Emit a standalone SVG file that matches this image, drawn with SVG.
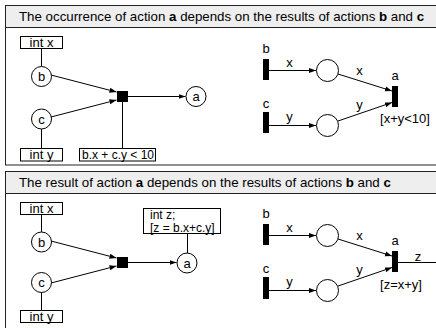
<svg xmlns="http://www.w3.org/2000/svg" width="436" height="328" viewBox="0 0 436 328">
<defs>
<style>
text{font-family:"Liberation Sans",Arial,sans-serif;font-size:13px;fill:#000}
.hdr{font-size:13.3px}
.sm{font-size:12px}
.panel{fill:#fff;stroke:#222;stroke-width:1}
.head{fill:#eeeeee;stroke:#222;stroke-width:1}
.box{fill:#fff;stroke:#000;stroke-width:1}
.pl{fill:#fff;stroke:#000;stroke-width:1}
.bar{fill:#000}
.ln{stroke:#000;stroke-width:1;fill:none}
.ar{stroke:#000;stroke-width:1;fill:none;marker-end:url(#ah)}
.c{text-anchor:middle}
</style>
<marker id="ah" markerUnits="userSpaceOnUse" markerWidth="7" markerHeight="6" refX="7" refY="3" orient="auto"><path d="M0,0.5 L7,3 L0,5.5 z" fill="#000"/></marker>
</defs>

<g id="panel1">
<rect class="panel" x="5.5" y="5.5" width="440" height="159.5"/>
<rect class="head" x="5.5" y="5.5" width="440" height="22"/>
<text class="hdr" x="19" y="21">The occurrence of action <tspan font-weight="bold">a</tspan> depends on the results of actions <tspan font-weight="bold">b</tspan> and <tspan font-weight="bold">c</tspan></text>
</g>
<g id="panel2">
<rect class="panel" x="5.5" y="171.5" width="440" height="170"/>
<rect class="head" x="5.5" y="171.5" width="440" height="22"/>
<text class="hdr" x="19" y="187">The result of action <tspan font-weight="bold">a</tspan> depends on the results of actions <tspan font-weight="bold">b</tspan> and <tspan font-weight="bold">c</tspan></text>
</g>

<g id="connectors">
<!-- panel 1 left -->
<line class="ln" x1="41.5" y1="48.5" x2="41.5" y2="66"/>
<line class="ln" x1="41.5" y1="129" x2="41.5" y2="148"/>
<line class="ar" x1="51" y1="75" x2="116.5" y2="92"/>
<line class="ar" x1="51" y1="117" x2="116.5" y2="100"/>
<line class="ar" x1="128" y1="96.5" x2="185.5" y2="96.5"/>
<line class="ln" x1="122.5" y1="102" x2="122.5" y2="148"/>
<!-- panel 1 right -->
<line class="ar" x1="269" y1="70.5" x2="316" y2="70.5"/>
<line class="ar" x1="338" y1="74" x2="392" y2="91"/>
<line class="ar" x1="269" y1="125.5" x2="316" y2="125.5"/>
<line class="ar" x1="338" y1="121" x2="392" y2="102.5"/>
<!-- panel 2 left -->
<line class="ln" x1="41.5" y1="214.5" x2="41.5" y2="232"/>
<line class="ln" x1="41.5" y1="292" x2="41.5" y2="310"/>
<line class="ar" x1="51" y1="241" x2="116.5" y2="258"/>
<line class="ar" x1="51" y1="283" x2="116.5" y2="266"/>
<line class="ar" x1="128" y1="262.5" x2="176.5" y2="262.5"/>
<line class="ln" x1="187.5" y1="233.5" x2="187.5" y2="253"/>
<!-- panel 2 right -->
<line class="ar" x1="269" y1="235.5" x2="316" y2="235.5"/>
<line class="ar" x1="338" y1="239" x2="392" y2="256"/>
<line class="ar" x1="269" y1="290.5" x2="316" y2="290.5"/>
<line class="ar" x1="338" y1="286" x2="392" y2="267.5"/>
<line class="ln" x1="398" y1="262.5" x2="440" y2="262.5"/>
</g>

<!-- panel 1 nodes -->
<g id="p1-intx"><rect class="box" x="20.5" y="36.5" width="42" height="12"/><text class="c" x="41.5" y="46.5">int x</text></g>
<g id="p1-b"><circle class="pl" cx="41.5" cy="76.5" r="10"/><text class="c" x="41.5" y="81">b</text></g>
<g id="p1-c"><circle class="pl" cx="41.5" cy="119" r="10"/><text class="c" x="41.5" y="123.5">c</text></g>
<g id="p1-inty"><rect class="box" x="20.5" y="148.5" width="42" height="12.5"/><text class="c" x="41.5" y="159">int y</text></g>
<g id="p1-join"><rect class="bar" x="117" y="91" width="11" height="11"/></g>
<g id="p1-a"><circle class="pl" cx="196" cy="96.5" r="10"/><text class="c" x="196" y="101">a</text></g>
<g id="p1-cond"><rect class="box" x="79.5" y="148.5" width="76" height="12.5"/><text class="sm" x="82" y="159">b.x + c.y &lt; 10</text></g>

<g id="p1-tb"><rect class="bar" x="263" y="59" width="6" height="21"/><text class="c" x="266" y="53">b</text></g>
<g id="p1-tc"><rect class="bar" x="263" y="112" width="6" height="21"/><text class="c" x="266" y="108">c</text></g>
<g id="p1-p1"><circle class="pl" cx="327.5" cy="70.5" r="11"/></g>
<g id="p1-p2"><circle class="pl" cx="327.5" cy="125.5" r="11"/></g>
<g id="p1-ta"><rect class="bar" x="392" y="86" width="6" height="21"/><text class="c" x="395" y="80">a</text><text class="c" x="405" y="123">[x+y&lt;10]</text></g>
<g id="p1-labels">
<text class="c" x="289.5" y="67">x</text>
<text class="c" x="359.5" y="75">x</text>
<text class="c" x="289.5" y="121">y</text>
<text class="c" x="359.5" y="109">y</text>
</g>

<!-- panel 2 nodes -->
<g id="p2-intx"><rect class="box" x="20.5" y="202.5" width="42" height="12"/><text class="c" x="41.5" y="212.5">int x</text></g>
<g id="p2-b"><circle class="pl" cx="41.5" cy="242" r="10"/><text class="c" x="41.5" y="246.5">b</text></g>
<g id="p2-c"><circle class="pl" cx="41.5" cy="282.5" r="10"/><text class="c" x="41.5" y="287">c</text></g>
<g id="p2-inty"><rect class="box" x="20.5" y="310.5" width="42" height="12"/><text class="c" x="41.5" y="320.5">int y</text></g>
<g id="p2-join"><rect class="bar" x="117" y="257" width="11" height="11"/></g>
<g id="p2-a"><circle class="pl" cx="187" cy="263" r="10"/><text class="c" x="187" y="267.5">a</text></g>
<g id="p2-decl"><rect class="box" x="143.5" y="208.5" width="77" height="25"/><text class="sm" x="150" y="219">int z;</text><text class="sm" x="150" y="232">[z = b.x+c.y]</text></g>

<g id="p2-tb"><rect class="bar" x="263" y="224" width="6" height="21"/><text class="c" x="266" y="218">b</text></g>
<g id="p2-tc"><rect class="bar" x="263" y="277" width="6" height="22"/><text class="c" x="266" y="273">c</text></g>
<g id="p2-p1"><circle class="pl" cx="327.5" cy="235.5" r="11"/></g>
<g id="p2-p2"><circle class="pl" cx="327.5" cy="290.5" r="11"/></g>
<g id="p2-ta"><rect class="bar" x="392" y="251" width="6" height="21"/><text class="c" x="395" y="245">a</text><text class="c" x="401" y="289">[z=x+y]</text></g>
<g id="p2-labels">
<text class="c" x="289.5" y="232">x</text>
<text class="c" x="359.5" y="240">x</text>
<text class="c" x="289.5" y="286">y</text>
<text class="c" x="359.5" y="274">y</text>
<text class="c" x="418" y="261">z</text>
</g>
</svg>
